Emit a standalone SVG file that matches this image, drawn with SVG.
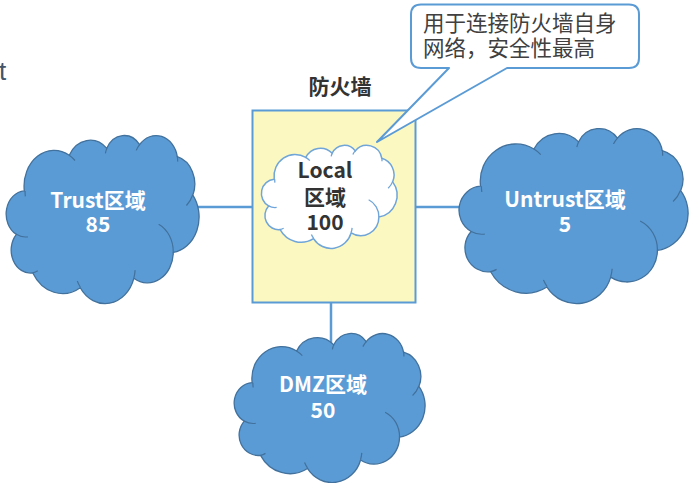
<svg xmlns="http://www.w3.org/2000/svg" xmlns:xlink="http://www.w3.org/1999/xlink" width="691" height="483" viewBox="0 0 691 483">
<defs>
<path id="cloudShape" d="M9.03,33.26 A15.63,21.27 0 0 1 32.42,12.04 A12.34,16.82 0 0 1 51.98,7.95 A10.10,13.76 0 0 1 69.06,5.75 A11.24,15.27 0 0 1 88.70,12.91 A12.35,16.84 0 0 1 96.80,35.79 A15.68,21.34 0 0 1 86.59,69.92 A13.39,18.21 0 0 1 66.10,85.22 A15.63,21.33 0 0 1 38.15,90.90 A17.87,24.41 0 0 1 13.44,82.11 A10.09,13.70 0 0 1 4.89,59.14 A10.06,13.76 0 0 1 9.03,33.26 Z" vector-effect="non-scaling-stroke"/>
<path id="cloudDetail" d="M10.86,60.60 A10.06,13.76 0 0 1 4.89,59.14 M16.04,80.78 A10.09,13.70 0 0 1 13.44,82.11 M38.14,90.49 A15.63,21.33 0 0 1 36.6,86.9 M66.73,80.44 A15.63,21.33 0 0 1 66.12,84.86 M79.0,53.13 A13.39,18.21 0 0 1 86.59,69.92 M96.75,35.54 A12.34,16.84 0 0 1 93.45,41.98 M88.71,12.56 A11.24,15.27 0 0 1 88.88,15.84 M67.31,9.15 A11.24,15.27 0 0 1 69.06,5.75 M51.25,10.93 A10.10,13.76 0 0 1 51.98,7.95 M32.41,12.02 A15.63,21.27 0 0 1 35.43,15.17 M9.55,36.55 A15.63,21.27 0 0 1 9.41,33.31" fill="none" vector-effect="non-scaling-stroke"/>
</defs>
<style>
.blue{fill:#5B9BD5;stroke:#41719C;stroke-width:1.3}
.bluedet{stroke:#41719C;stroke-width:1.2;fill:none}
.white{fill:#FFFFFF;stroke:#6FA5D8;stroke-width:1.5}
.whitedet{stroke:#6FA5D8;stroke-width:1.3;fill:none}
.conn{stroke:#5B9BD5;stroke-width:2.5;fill:none}
.lbl{font-family:"Noto Sans CJK SC","Noto Sans",sans-serif;font-weight:bold;font-size:21px;text-anchor:middle}
.wlbl{fill:#FFFFFF}
.dlbl{fill:#333333}
.note{font-family:"Noto Sans CJK SC",sans-serif;font-size:21.5px;fill:#404040}
</style>
<text x="-1" y="80" font-family="Liberation Sans, sans-serif" font-size="26" fill="#44546A">t</text>
<g id="connectors">
<line class="conn" x1="196" y1="207" x2="253" y2="207"/>
<line class="conn" x1="415" y1="207" x2="465" y2="207"/>
<line class="conn" x1="331" y1="302" x2="331" y2="346"/>
</g>
<g id="firewall">
<rect x="252.5" y="110.5" width="163" height="192" fill="#FBF8C2" stroke="#5B9BD5" stroke-width="2"/>
<text class="lbl dlbl" x="340" y="94">防火墙</text>
</g>
<g id="trust">
<use xlink:href="#cloudShape" class="blue" transform="translate(7,135) scale(1.92,1.68)"/>
<use xlink:href="#cloudDetail" class="bluedet" transform="translate(7,135) scale(1.92,1.68)"/>
<text class="lbl wlbl" x="98" y="208">Trust区域</text>
<text class="lbl wlbl" x="98" y="232">85</text>
</g>
<g id="untrust">
<use xlink:href="#cloudShape" class="blue" transform="translate(460,128) scale(2.28,1.75)"/>
<use xlink:href="#cloudDetail" class="bluedet" transform="translate(460,128) scale(2.28,1.75)"/>
<text class="lbl wlbl" x="565" y="207">Untrust区域</text>
<text class="lbl wlbl" x="565" y="232">5</text>
</g>
<g id="dmz">
<use xlink:href="#cloudShape" class="blue" transform="translate(235,333) scale(1.9,1.49)"/>
<use xlink:href="#cloudDetail" class="bluedet" transform="translate(235,333) scale(1.9,1.49)"/>
<text class="lbl wlbl" x="323" y="392">DMZ区域</text>
<text class="lbl wlbl" x="323" y="418">50</text>
</g>
<g id="callout">
<path d="M421,4.5 H629 Q639,4.5 639,14.5 V58 Q639,68 629,68 H507 L377,142 L449,68 H421 Q411,68 411,58 V14.5 Q411,4.5 421,4.5 Z" fill="#FFFFFF" stroke="#5B9BD5" stroke-width="2" stroke-linejoin="round"/>
<text class="note" x="423" y="31">用于连接防火墙自身</text>
<text class="note" x="423" y="56">网络，安全性最高</text>
</g>
<g id="local">
<use xlink:href="#cloudShape" class="white" transform="translate(262,145) scale(1.35,1.03)"/>
<use xlink:href="#cloudDetail" class="whitedet" transform="translate(262,145) scale(1.35,1.03)"/>
<text class="lbl dlbl" x="325" y="178">Local</text>
<text class="lbl dlbl" x="325" y="205">区域</text>
<text class="lbl dlbl" x="325" y="230">100</text>
</g>
</svg>
